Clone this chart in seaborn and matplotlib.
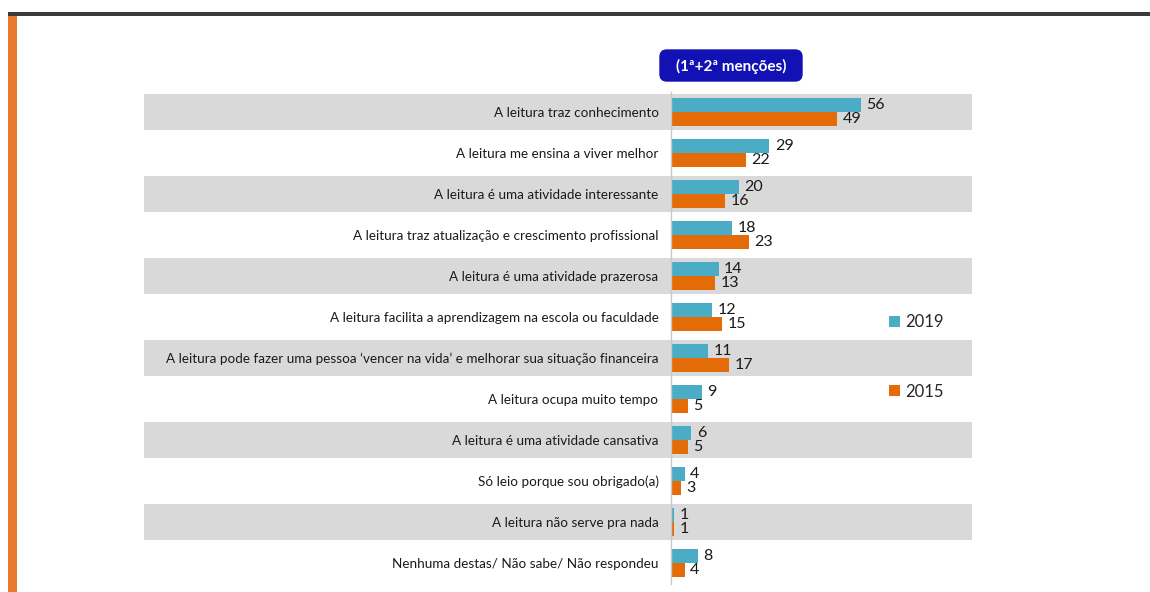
import pandas as pd
import numpy as np
import matplotlib
matplotlib.use('Agg')
import matplotlib.pyplot as plt
import seaborn as sns
from matplotlib.patches import Rectangle, Patch, FancyBboxPatch

# Data
categories = [
    'A leitura traz conhecimento',
    'A leitura me ensina a viver melhor',
    'A leitura é uma atividade interessante',
    'A leitura traz atualização e crescimento profissional',
    'A leitura é uma atividade prazerosa',
    'A leitura facilita a aprendizagem na escola ou faculdade',
    'A leitura pode fazer uma pessoa \u2018vencer na vida\u2019 e melhorar sua situação financeira',
    'A leitura ocupa muito tempo',
    'A leitura é uma atividade cansativa',
    'Só leio porque sou obrigado(a)',
    'A leitura não serve pra nada',
    'Nenhuma destas/ Não sabe/ Não respondeu',
]
values_2019 = [56, 29, 20, 18, 14, 12, 11, 9, 6, 4, 1, 8]
values_2015 = [49, 22, 16, 23, 13, 15, 17, 5, 5, 3, 1, 4]
years = ['2019', '2015']
colors = {'2019': '#4BACC6', '2015': '#E36C09'}
title_text = '(1ª+2ª menções)'

df = pd.DataFrame({
    'categoria': categories * 2,
    'valor': values_2019 + values_2015,
    'ano': ['2019'] * len(categories) + ['2015'] * len(categories),
})

sns.set_style('white')
plt.rcParams['font.family'] = ['Lato', 'DejaVu Sans']

W, H = 1150, 592
fig = plt.figure(figsize=(W / 100, H / 100), dpi=100)

# axes placed in pixel terms: zero at x=671, right edge at 972
x0, x1 = 671, 972
y_top, y_bot = 91.5, 583.5
ax = fig.add_axes([x0 / W, 1 - y_bot / H, (x1 - x0) / W, (y_bot - y_top) / H])
px_per_unit = 190 / 56
xmax = (x1 - x0) / px_per_unit

# alternating gray bands across the label area
xmin_frac = (144 - x0) / (x1 - x0)
for i in range(0, len(categories), 2):
    ax.axhspan(i - 0.45, i + 0.45, xmin=xmin_frac, xmax=1, color='#D9D9D9',
               lw=0, zorder=0, clip_on=False)

sns.barplot(data=df, y='categoria', x='valor', hue='ano', hue_order=years,
            palette=colors, orient='h', width=0.66, saturation=1, linewidth=0,
            ax=ax, legend=False, zorder=2)

ax.set_xlim(0, xmax)
ax.set_ylim(len(categories) - 0.5, -0.5)
for s in ['top', 'right', 'bottom']:
    ax.spines[s].set_visible(False)
ax.spines['left'].set_color('#C8C8C8')
ax.spines['left'].set_linewidth(1)
ax.set_xticks([])
ax.set_xlabel('')
ax.set_ylabel('')
ax.tick_params(axis='y', length=0, pad=9, labelsize=9.7, labelcolor='#1a1a1a')
ax.patch.set_alpha(0)

# value labels
for container in ax.containers:
    ax.bar_label(container, padding=4, fontsize=11.5, color='#1a1a1a')

# legend
handles = [Patch(facecolor=colors[y], edgecolor='none') for y in years]
ax.legend(handles, years, loc='center left', bbox_to_anchor=(874 / W, 1 - 357 / H),
          bbox_transform=fig.transFigure, frameon=False, fontsize=12,
          handlelength=0.65, handleheight=0.65, handletextpad=0.3, labelspacing=3.2)

# title box
fig.add_artist(FancyBboxPatch((660 / W, 1 - 81 / H), 142 / W, 31 / H,
                              boxstyle='round,pad=0,rounding_size=0.006',
                              transform=fig.transFigure, facecolor='#1212B4',
                              edgecolor='#1212B4', mutation_aspect=W / H))
fig.text(731 / W, 1 - 66 / H, title_text, ha='center', va='center', color='white',
         fontsize=11, fontweight='bold')

# slide decorations: top dark rule and orange left bar
fig.add_artist(Rectangle((8 / W, 1 - 16 / H), 1 - 8 / W, 4 / H, transform=fig.transFigure,
                         facecolor='#3A3A3A', edgecolor='none'))
fig.add_artist(Rectangle((8 / W, 0), 9 / W, 1 - 16 / H, transform=fig.transFigure,
                         facecolor='#E87A30', edgecolor='none'))

fig.savefig('out.png', dpi=100)
